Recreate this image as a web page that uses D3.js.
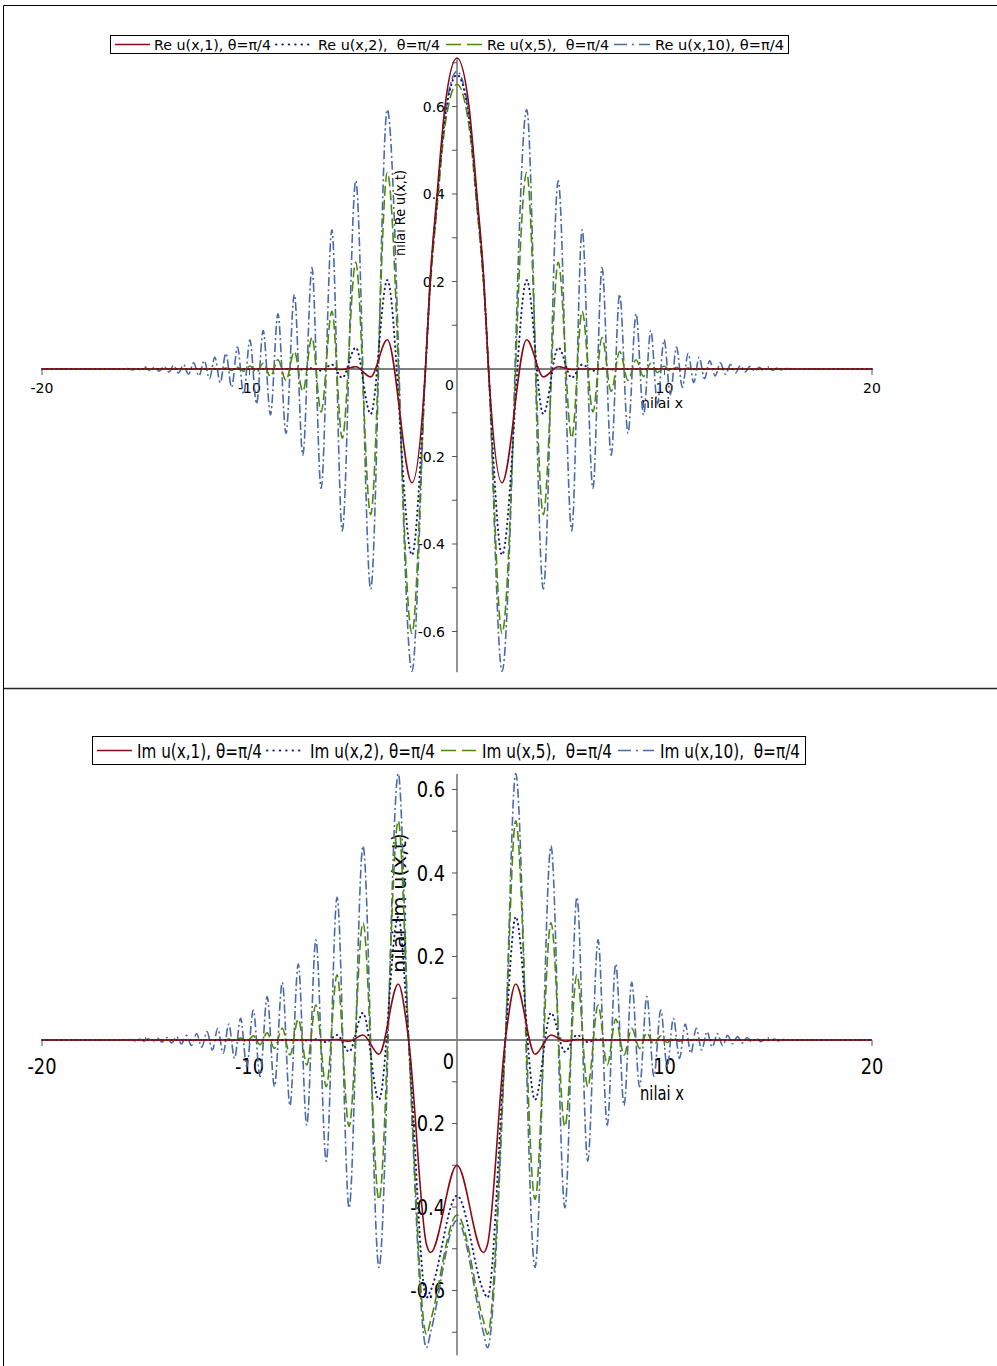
<!DOCTYPE html>
<html>
<head>
<meta charset="utf-8">
<script src="https://cdn.jsdelivr.net/npm/d3@7"></script>
<style>
  body { margin: 0; background: #fff; }
  svg { display: block; }
</style>
</head>
<body>
<svg width="997" height="1366"></svg>
<script>
// ---- data: Re panel (shared x grid, one value array per curve)
const reX = [
  -20, -16.4, -15.84, -15.64, -15.43, -15.22, -15.01, -14.79, -14.57, -14.35,
  -14.12, -13.89, -13.66, -13.42, -13.18, -12.94, -12.69, -12.44, -12.18, -11.93,
  -11.67, -11.41, -11.14, -10.86, -10.58, -10.28, -9.98, -9.66, -9.34, -8.99,
  -8.63, -8.24, -7.84, -7.43, -6.99, -6.55, -6.03, -5.53, -4.88, -4.16,
  -3.36, -2.17, -1.52, -1.30, -0.96, -0.58,
  0, 0.58, 0.96, 1.30, 1.52, 2.17, 3.36, 4.16, 4.88, 5.53,
  6.03, 6.55, 6.99, 7.43, 7.84, 8.24, 8.63, 8.99, 9.34, 9.66,
  9.98, 10.28, 10.58, 10.86, 11.14, 11.41, 11.67, 11.93, 12.18, 12.44,
  12.69, 12.94, 13.18, 13.42, 13.66, 13.89, 14.12, 14.35, 14.57, 14.79,
  15.01, 15.22, 15.43, 15.64, 15.84, 16.4, 20
];
const reU1 = [
  0, 0, 0, 0, 0, 0, 0, 0, 0, 0,
  0, 0, 0, 0, 0, 0, 0, 0, 0, 0,
  0, 0, 0, 0, 0, 0, 0, 0, 0, 0,
  0, 0, 0, 0, 0, 0, 0, -0.001, 0.005, -0.018,
  0.067, -0.26, 0, 0.20, 0.40, 0.60,
  0.711, 0.60, 0.40, 0.20, 0, -0.26, 0.067, -0.018, 0.005, -0.001,
  0, 0, 0, 0, 0, 0, 0, 0, 0, 0,
  0, 0, 0, 0, 0, 0, 0, 0, 0, 0,
  0, 0, 0, 0, 0, 0, 0, 0, 0, 0,
  0, 0, 0, 0, 0, 0, 0
];
const reU2 = [
  0, 0, 0, 0, 0, 0, 0, 0, 0, 0,
  0, 0, 0, 0, 0, 0, 0, 0, 0, 0,
  0, 0, 0, 0, 0, 0, 0, 0, 0, 0,
  0, 0, 0, -0.001, 0.002, -0.004, 0.010, -0.020, 0.049, -0.103,
  0.203, -0.425, 0, 0.19, 0.385, 0.575,
  0.672, 0.575, 0.385, 0.19, 0, -0.425, 0.203, -0.103, 0.049, -0.020,
  0.010, -0.004, 0.002, -0.001, 0, 0, 0, 0, 0, 0,
  0, 0, 0, 0, 0, 0, 0, 0, 0, 0,
  0, 0, 0, 0, 0, 0, 0, 0, 0, 0,
  0, 0, 0, 0, 0, 0, 0
];
const reU5 = [
  0, 0, 0, 0, 0, 0, 0, 0, 0, 0,
  0, 0, 0, 0, 0, 0, 0, 0, 0, 0,
  0.001, -0.001, 0.002, -0.003, 0.004, -0.005, 0.007, -0.008, 0.013, -0.017,
  0.021, -0.026, 0.040, -0.051, 0.072, -0.098, 0.132, -0.158, 0.244, -0.333,
  0.449, -0.604, 0, 0.18, 0.37, 0.555,
  0.651, 0.555, 0.37, 0.18, 0, -0.604, 0.449, -0.333, 0.244, -0.158,
  0.132, -0.098, 0.072, -0.051, 0.040, -0.026, 0.021, -0.017, 0.013, -0.008,
  0.007, -0.005, 0.004, -0.003, 0.002, -0.001, 0.001, 0, 0, 0,
  0, 0, 0, 0, 0, 0, 0, 0, 0, 0,
  0, 0, 0, 0, 0, 0, 0
];
const reU10 = [
  0, 0, 0.001, -0.002, 0.002, -0.003, 0.003, -0.004, 0.004, -0.005,
  0.006, -0.007, 0.008, -0.009, 0.010, -0.012, 0.014, -0.016, 0.019, -0.022,
  0.027, -0.031, 0.036, -0.042, 0.050, -0.058, 0.067, -0.080, 0.088, -0.105,
  0.126, -0.147, 0.171, -0.197, 0.232, -0.273, 0.318, -0.370, 0.430, -0.503,
  0.593, -0.691, 0, 0.19, 0.385, 0.58,
  0.680, 0.58, 0.385, 0.19, 0, -0.691, 0.593, -0.503, 0.430, -0.370,
  0.318, -0.273, 0.232, -0.197, 0.171, -0.147, 0.126, -0.105, 0.088, -0.080,
  0.067, -0.058, 0.050, -0.042, 0.036, -0.031, 0.027, -0.022, 0.019, -0.016,
  0.014, -0.012, 0.010, -0.009, 0.008, -0.007, 0.006, -0.005, 0.004, -0.004,
  0.003, -0.003, 0.002, -0.002, 0.001, 0, 0
];

// ---- Im panel
const imX = [
  -20, -16.3, -15.71, -15.50, -15.29, -15.08, -14.87, -14.65, -14.43, -14.21,
  -13.98, -13.75, -13.52, -13.28, -13.04, -12.80, -12.55, -12.30, -12.05, -11.79,
  -11.53, -11.27, -11.00, -10.72, -10.43, -10.13, -9.82, -9.49, -9.15, -8.80,
  -8.42, -8.05, -7.65, -7.24, -6.80, -6.30, -5.78, -5.20, -4.53, -3.76,
  -2.83, -2.33, -1.47, -1.27,
  0, 1.27, 1.47, 2.33, 2.83, 3.76, 4.53, 5.20, 5.78, 6.30,
  6.80, 7.24, 7.65, 8.05, 8.42, 8.80, 9.15, 9.49, 9.82, 10.13,
  10.43, 10.72, 11.00, 11.27, 11.53, 11.79, 12.05, 12.30, 12.55, 12.80,
  13.04, 13.28, 13.52, 13.75, 13.98, 14.21, 14.43, 14.65, 14.87, 15.08,
  15.29, 15.50, 15.71, 16.3, 20
];
const imU1 = [
  0, 0, 0, 0, 0, 0, 0, 0, 0, 0,
  0, 0, 0, 0, 0, 0, 0, 0, 0, 0,
  0, 0, 0, 0, 0, 0, 0, 0, 0, 0,
  0, 0, 0, 0, 0, 0, 0.001, -0.003, 0.012, -0.034,
  0.134, 0, -0.490, -0.509,
  -0.300, -0.509, -0.490, 0, 0.134, -0.034, 0.012, -0.003, 0.001, 0,
  0, 0, 0, 0, 0, 0, 0, 0, 0, 0,
  0, 0, 0, 0, 0, 0, 0, 0, 0, 0,
  0, 0, 0, 0, 0, 0, 0, 0, 0, 0,
  0, 0, 0, 0, 0
];
const imU2 = [
  0, 0, 0, 0, 0, 0, 0, 0, 0, 0,
  0, 0, 0, 0, 0, 0, 0, 0, 0, 0,
  0, 0, 0, 0, 0, 0, 0, 0, 0, 0,
  0, 0, 0, -0.001, 0.002, -0.005, 0.012, -0.028, 0.065, -0.143,
  0.295, 0, -0.617, -0.600,
  -0.373, -0.600, -0.617, 0, 0.295, -0.143, 0.065, -0.028, 0.012, -0.005,
  0.002, -0.001, 0, 0, 0, 0, 0, 0, 0, 0,
  0, 0, 0, 0, 0, 0, 0, 0, 0, 0,
  0, 0, 0, 0, 0, 0, 0, 0, 0, 0,
  0, 0, 0, 0, 0
];
const imU5 = [
  0, 0, 0, 0, 0, 0, 0, 0, 0, 0,
  0, 0, 0, 0, 0, 0, 0, 0, 0, 0,
  0.001, -0.001, 0.002, -0.003, 0.005, -0.006, 0.010, -0.011, 0.017, -0.020,
  0.028, -0.036, 0.050, -0.060, 0.084, -0.112, 0.156, -0.207, 0.281, -0.382,
  0.525, 0, -0.705, -0.672,
  -0.419, -0.672, -0.705, 0, 0.525, -0.382, 0.281, -0.207, 0.156, -0.112,
  0.084, -0.060, 0.050, -0.036, 0.028, -0.020, 0.017, -0.011, 0.010, -0.006,
  0.005, -0.003, 0.002, -0.001, 0.001, 0, 0, 0, 0, 0,
  0, 0, 0, 0, 0, 0, 0, 0, 0, 0,
  0, 0, 0, 0, 0
];
const imU10 = [
  0, 0, 0.001, -0.002, 0.002, -0.003, 0.003, -0.004, 0.004, -0.005,
  0.006, -0.007, 0.008, -0.009, 0.011, -0.013, 0.015, -0.017, 0.020, -0.024,
  0.028, -0.032, 0.038, -0.044, 0.052, -0.064, 0.072, -0.088, 0.104, -0.112,
  0.138, -0.157, 0.182, -0.204, 0.240, -0.290, 0.342, -0.402, 0.465, -0.545,
  0.638, 0, -0.737, -0.700,
  -0.432, -0.700, -0.737, 0, 0.638, -0.545, 0.465, -0.402, 0.342, -0.290,
  0.240, -0.204, 0.182, -0.157, 0.138, -0.112, 0.104, -0.088, 0.072, -0.064,
  0.052, -0.044, 0.038, -0.032, 0.028, -0.024, 0.020, -0.017, 0.015, -0.013,
  0.011, -0.009, 0.008, -0.007, 0.006, -0.005, 0.004, -0.004, 0.003, -0.003,
  0.002, -0.002, 0.001, 0, 0
];

const reLabels = ["Re u(x,1), \u03b8=\u03c0/4", "Re u(x,2),  \u03b8=\u03c0/4", "Re u(x,5),  \u03b8=\u03c0/4", "Re u(x,10), \u03b8=\u03c0/4"];
const imLabels = ["Im u(x,1), \u03b8=\u03c0/4", "Im u(x,2), \u03b8=\u03c0/4", "Im u(x,5),  \u03b8=\u03c0/4", "Im u(x,10),  \u03b8=\u03c0/4"];
const xTickLabels = [-20, -10, 10, 20];
const xMinorTicks = [-15, -5, 5, 15];
const yTickLabels = [-0.6, -0.4, -0.2, 0.2, 0.4, 0.6];
const yMinorTicks = [-0.7, -0.5, -0.3, -0.1, 0.1, 0.3, 0.5, 0.7];

// curve styles: u(x,1) solid red, u(x,2) dotted navy, u(x,5) dashed green, u(x,10) dash-dot blue
const styles = [
  { color: "#8c0a14", dash: null,      legendDash: null,       width: 1.6, cap: "butt" },
  { color: "#101c80", dash: "0.4,4.4", legendDash: "0.4,6",    width: 2,   cap: "round" },
  { color: "#4d8a0a", dash: "10,4",    legendDash: "15,6",     width: 1.6, cap: "butt" },
  { color: "#4a6aa8", dash: "9,3,2,3", legendDash: "13,5,2,5", width: 1.6, cap: "butt" }
];

const svg = d3.select("svg");
svg.append("rect").attr("width", 997).attr("height", 1366).attr("fill", "#fff");

// outer frame of the two stacked plots
svg.append("line").attr("x1", 3.5).attr("x2", 997).attr("y1", 5.5).attr("y2", 5.5).attr("stroke", "#000");
svg.append("line").attr("x1", 3.5).attr("x2", 3.5).attr("y1", 5.5).attr("y2", 1366).attr("stroke", "#000");
svg.append("line").attr("x1", 3.5).attr("x2", 997).attr("y1", 688.5).attr("y2", 688.5).attr("stroke", "#222").attr("stroke-width", 1.5);

// text placed with translate + horizontal squeeze (bottom plot uses a narrow face)
function label(parent, p, x, y, s, size, anchor, len) {
  const t = parent.append("text")
    .attr("transform", `translate(${x},${y}) scale(${p.sx},1)`)
    .attr("text-anchor", anchor).attr("font-family", p.font).attr("font-size", size)
    .style("white-space", "pre").text(s);
  if (len) t.attr("textLength", len / p.sx).attr("lengthAdjust", "spacingAndGlyphs");
  return t;
}

function drawPanel(p) {
  const x = d3.scaleLinear().domain([-20, 20]).range([42, 872]);
  const y = d3.scaleLinear().domain([-0.6, 0.6]).range([p.y0 + 0.6 * p.unit, p.y0 - 0.6 * p.unit]);
  const g = svg.append("g");

  // x axis
  g.append("line").attr("x1", x(-20)).attr("x2", x(20)).attr("y1", y(0)).attr("y2", y(0))
    .attr("stroke", "#000").attr("stroke-width", 1.2);
  g.selectAll(".xt").data(xTickLabels).join("line")
    .attr("x1", d => x(d)).attr("x2", d => x(d)).attr("y1", y(0)).attr("y2", y(0) + 6)
    .attr("stroke", "#555");
  g.selectAll(".xm").data(xMinorTicks).join("line")
    .attr("x1", d => x(d)).attr("x2", d => x(d)).attr("y1", y(0) - 3).attr("y2", y(0))
    .attr("stroke", "#555");
  xTickLabels.forEach(d => label(g, p, x(d), y(0) + p.xLabelDy, String(d), p.fs, "middle"));
  label(g, p, x(0) - 3, y(0) + p.zeroDy, "0", p.fs, "end");

  // y axis
  g.append("line").attr("x1", x(0)).attr("x2", x(0)).attr("y1", y(p.yRange[1])).attr("y2", y(p.yRange[0]))
    .attr("stroke", "#7a7a7a").attr("stroke-width", 1.6);
  g.selectAll(".yt").data(yTickLabels.concat(yMinorTicks.filter(v => v > p.yRange[0] && v < p.yRange[1]))).join("line")
    .attr("x1", x(0) - 5).attr("x2", x(0)).attr("y1", d => y(d)).attr("y2", d => y(d))
    .attr("stroke", "#555");
  yTickLabels.forEach(d => label(g, p, x(0) - 12, y(d) + p.fs * 0.36,
    (d < 0 ? "-" : "") + Math.abs(d).toFixed(1), p.fs, "end"));

  // axis titles
  label(g, p, p.xTitle[0], p.xTitle[1], "nilai x", p.titleFs, "start", p.xTitle[2]);
  g.append("text")
    .attr("transform", `translate(${p.yTitle[0]},${p.yTitle[1]}) rotate(-90)`)
    .attr("text-anchor", "middle").attr("font-family", p.font).attr("font-size", p.titleFs)
    .attr("textLength", p.yTitle[2]).attr("lengthAdjust", "spacingAndGlyphs")
    .text(p.yTitleText);

  // curves
  const line = d3.line().x(d => x(d[0])).y(d => y(d[1])).curve(d3.curveMonotoneX);
  [3, 2, 1, 0].forEach(i => {
    const pts = p.xs.map((v, k) => [v, p.series[i][k]]);
    g.append("path").datum(pts).attr("d", line)
      .attr("fill", "none").attr("stroke", styles[i].color)
      .attr("stroke-width", styles[i].width)
      .attr("stroke-dasharray", styles[i].dash)
      .attr("stroke-linecap", styles[i].cap);
  });

  // legend
  const L = p.legend;
  const lg = svg.append("g");
  lg.append("rect").attr("x", L.box[0] + 0.5).attr("y", L.box[1] + 0.5)
    .attr("width", L.box[2]).attr("height", L.box[3])
    .attr("fill", "#fff").attr("stroke", "#000");
  p.labels.forEach((t, i) => {
    lg.append("line").attr("x1", L.sample[i][0]).attr("x2", L.sample[i][1])
      .attr("y1", L.midY).attr("y2", L.midY)
      .attr("stroke", styles[i].color).attr("stroke-width", styles[i].width)
      .attr("stroke-dasharray", styles[i].legendDash)
      .attr("stroke-linecap", styles[i].cap);
    label(lg, p, L.text[i][0], L.baseY, t, L.fs, "start", L.text[i][1] - L.text[i][0]);
  });
}

drawPanel({
  xs: reX, series: [reU1, reU2, reU5, reU10], labels: reLabels,
  y0: 369, unit: 437.5, yRange: [-0.693, 0.708],
  font: "'DejaVu Sans', sans-serif", sx: 1, fs: 14, titleFs: 13.5,
  xLabelDy: 24, zeroDy: 21,
  xTitle: [641, 408, 42], yTitle: [405, 213, 86], yTitleText: "nilai Re u(x,t)",
  legend: { box: [110, 35, 678, 18], midY: 44.5, baseY: 49.5, fs: 13.5,
            sample: [[115, 150], [276, 311], [446, 482], [614, 650]],
            text: [[154, 271], [318, 440], [487, 609], [655, 784]] }
});

drawPanel({
  xs: imX, series: [imU1, imU2, imU5, imU10], labels: imLabels,
  y0: 1040, unit: 417.5, yRange: [-0.755, 0.637],
  font: "'DejaVu Sans', sans-serif", sx: 0.85, fs: 21, titleFs: 20,
  xLabelDy: 34, zeroDy: 29,
  xTitle: [640, 1100, 44], yTitle: [406, 903, 140], yTitleText: "nilai Im u(x,t)",
  legend: { box: [92, 736, 713, 28], midY: 750.5, baseY: 757.5, fs: 20,
            sample: [[97, 132], [267, 302], [441, 476], [618, 654]],
            text: [[137, 262], [310, 435], [482, 612], [660, 800]] }
});
</script>
</body>
</html>
